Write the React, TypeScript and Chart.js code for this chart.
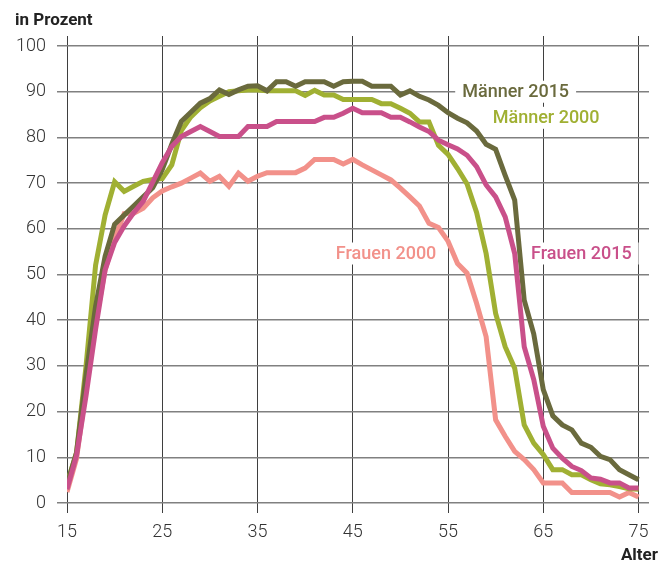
import React, { useEffect, useRef } from "react";
import { Chart, registerables } from "chart.js";

Chart.register(...registerables);

// Alter (Jahre)
const ages = [
  15, 16, 17, 18, 19, 20, 21, 22, 23, 24, 25, 26, 27, 28, 29, 30, 31, 32, 33, 34,
  35, 36, 37, 38, 39, 40, 41, 42, 43, 44, 45, 46, 47, 48, 49, 50, 51, 52, 53, 54,
  55, 56, 57, 58, 59, 60, 61, 62, 63, 64, 65, 66, 67, 68, 69, 70, 71, 72, 73, 74, 75,
];

const maenner2015 = [
  4, 11, 28, 43, 54, 61, 63, 65, 67, 69, 73, 78.5, 83.5, 85.5, 87.5, 88.5, 90.4, 89.4, 90.4, 91.2,
  91.3, 90.2, 92.2, 92.2, 91.2, 92.2, 92.2, 92.2, 91.2, 92.2, 92.3, 92.3, 91.2, 91.2, 91.2, 89.3, 90.2, 89, 88.2, 87,
  85.4, 84.2, 83.2, 81.4, 78.5, 77.4, 71.7, 66.3, 44.4, 37, 24.8, 19.1, 17.1, 16, 13.1, 12.2, 10.2, 9.5, 7.3, 6.2, 5.1,
];

const maenner2000 = [
  4.3, 11, 30, 52, 63, 70.3, 68.2, 69.3, 70.4, 70.8, 71, 74, 81.5, 84.5, 86.5, 88, 89, 90, 90.2, 90.4,
  90.4, 90.2, 90.2, 90.2, 90.2, 89.2, 90.3, 89.3, 89.3, 88.3, 88.3, 88.3, 88.3, 87.4, 87.4, 86.4, 85.3, 83.4, 83.4, 78.3,
  76.3, 73.2, 69.8, 63.6, 54.6, 41.5, 34.2, 29.5, 17.1, 13.1, 10.6, 7.3, 7.3, 6.2, 6.2, 5.1, 4.2, 4, 3.6, 3.1, 3,
];

const frauen2015 = [
  3, 10.4, 23.5, 38, 51, 57, 60.6, 63.5, 66, 70.2, 74.5, 78, 80.2, 81.3, 82.4, 81.3, 80.2, 80.2, 80.2, 82.4,
  82.4, 82.4, 83.5, 83.5, 83.5, 83.5, 83.5, 84.4, 84.4, 85.3, 86.4, 85.4, 85.4, 85.4, 84.4, 84.4, 83.4, 82.3, 81.3, 79.4,
  78.4, 77.5, 76.1, 73.6, 69.6, 67, 62.6, 54.6, 34.2, 27, 16.8, 12, 9.8, 8, 7.1, 5.5, 5.2, 4.4, 4.4, 3.3, 3.3,
];

const frauen2000 = [
  2.4, 9.7, 25, 39.5, 51, 58, 63.3, 63.4, 64.5, 66.8, 68.3, 69.2, 70, 71.1, 72.2, 70.4, 71.5, 69.3, 72.2, 70.4,
  71.5, 72.3, 72.3, 72.3, 72.3, 73.3, 75.2, 75.2, 75.2, 74.2, 75.2, 74, 72.9, 71.8, 70.7, 68.9, 67, 65, 61.2, 60.3,
  57.3, 52.4, 50.3, 43.7, 36.4, 18.2, 14.6, 11.3, 9.5, 7.3, 4.4, 4.4, 4.4, 2.3, 2.3, 2.3, 2.3, 2.3, 1.3, 2.3, 1.3,
];

const xTicks = [15, 25, 35, 45, 55, 65, 75];
const yTicks = [0, 10, 20, 30, 40, 50, 60, 70, 80, 90, 100];

const C_M15 = "#6a6a3d";
const C_M00 = "#a0b033";
const C_F15 = "#c9508a";
const C_F00 = "#f2918a";

const seriesLabels = [
  { text: "Männer 2015", color: C_M15, x: 62.1, y: 90 },
  { text: "Männer 2000", color: C_M00, x: 65.3, y: 84.3 },
  { text: "Frauen 2015", color: C_F15, x: 69.0, y: 54.6 },
  { text: "Frauen 2000", color: C_F00, x: 48.5, y: 54.6 },
];

const FONT = "Roboto, 'Noto Sans', sans-serif";

const toPoints = (vals: number[]) => ages.map((a, i) => ({ x: a, y: vals[i] }));

const textPlugin = {
  id: "textPlugin",
  beforeDatasetsDraw(chart: any) {
    const { ctx, scales } = chart;
    const xs = scales.x;
    const ys = scales.y;
    ctx.save();
    ctx.font = `500 18px ${FONT}`;
    ctx.textAlign = "center";
    ctx.textBaseline = "middle";
    for (const l of seriesLabels) {
      const px = xs.getPixelForValue(l.x);
      const py = ys.getPixelForValue(l.y);
      const w = ctx.measureText(l.text).width;
      ctx.fillStyle = "#ffffff";
      ctx.fillRect(px - w / 2 - 7, py - 11, w + 14, 22);
      ctx.fillStyle = l.color;
      ctx.fillText(l.text, px, py + 1);
    }
    ctx.restore();
  },
  afterDraw(chart: any) {
    const { ctx } = chart;
    ctx.save();
    ctx.fillStyle = "#222222";
    ctx.font = `bold 17px ${FONT}`;
    ctx.textBaseline = "alphabetic";
    ctx.textAlign = "left";
    ctx.fillText("in Prozent", 15, 25);
    ctx.textAlign = "right";
    ctx.fillText("Alter", 658, 560);
    ctx.restore();
  },
};

export default function App() {
  const ref = useRef<HTMLCanvasElement | null>(null);

  useEffect(() => {
    if (!ref.current) return;
    const tickFont = { family: FONT, size: 18, weight: "300" as any };
    const chart = new Chart(ref.current, {
      type: "line",
      data: {
        datasets: [
          { label: "Frauen 2015", data: toPoints(frauen2015), borderColor: C_F15 },
          { label: "Männer 2015", data: toPoints(maenner2015), borderColor: C_M15 },
          { label: "Männer 2000", data: toPoints(maenner2000), borderColor: C_M00 },
          { label: "Frauen 2000", data: toPoints(frauen2000), borderColor: C_F00 },
        ].map((d) => ({
          ...d,
          borderWidth: 5,
          pointRadius: 0,
          pointHoverRadius: 0,
          tension: 0,
          fill: false,
        })),
      },
      options: {
        animation: false,
        responsive: true,
        maintainAspectRatio: false,
        layout: { padding: { left: 0, right: 23, top: 36, bottom: 0 } },
        plugins: {
          legend: { display: false },
          tooltip: { enabled: false },
        },
        events: [],
        scales: {
          x: {
            type: "linear",
            min: 15,
            max: 76.1,
            afterBuildTicks: (axis: any) => {
              axis.ticks = xTicks.map((v) => ({ value: v }));
            },
            afterFit: (scale: any) => {
              scale.height = 61;
            },
            ticks: {
              font: tickFont,
              color: "#333333",
              padding: 9,
              maxRotation: 0,
              autoSkip: false,
              callback: (v: any) => String(v),
            },
            grid: {
              color: "#3f3f3f",
              lineWidth: 1,
              tickLength: 10,
              drawTicks: true,
            },
            border: { display: false },
          },
          y: {
            type: "linear",
            min: 0,
            max: 102.2,
            afterBuildTicks: (axis: any) => {
              axis.ticks = yTicks.map((v) => ({ value: v }));
            },
            afterFit: (scale: any) => {
              scale.width = 67;
            },
            ticks: {
              font: tickFont,
              color: "#333333",
              padding: 11,
              callback: (v: any) => String(v),
            },
            grid: {
              color: "#808080",
              lineWidth: 1.5,
              tickLength: 10,
              drawTicks: true,
            },
            border: { display: false },
          },
        },
      },
      plugins: [textPlugin],
    });
    return () => chart.destroy();
  }, []);

  return (
    <div
      style={{
        position: "fixed",
        left: 0,
        top: 0,
        width: 672,
        height: 564,
        background: "#ffffff",
      }}
    >
      <canvas ref={ref} />
    </div>
  );
}
